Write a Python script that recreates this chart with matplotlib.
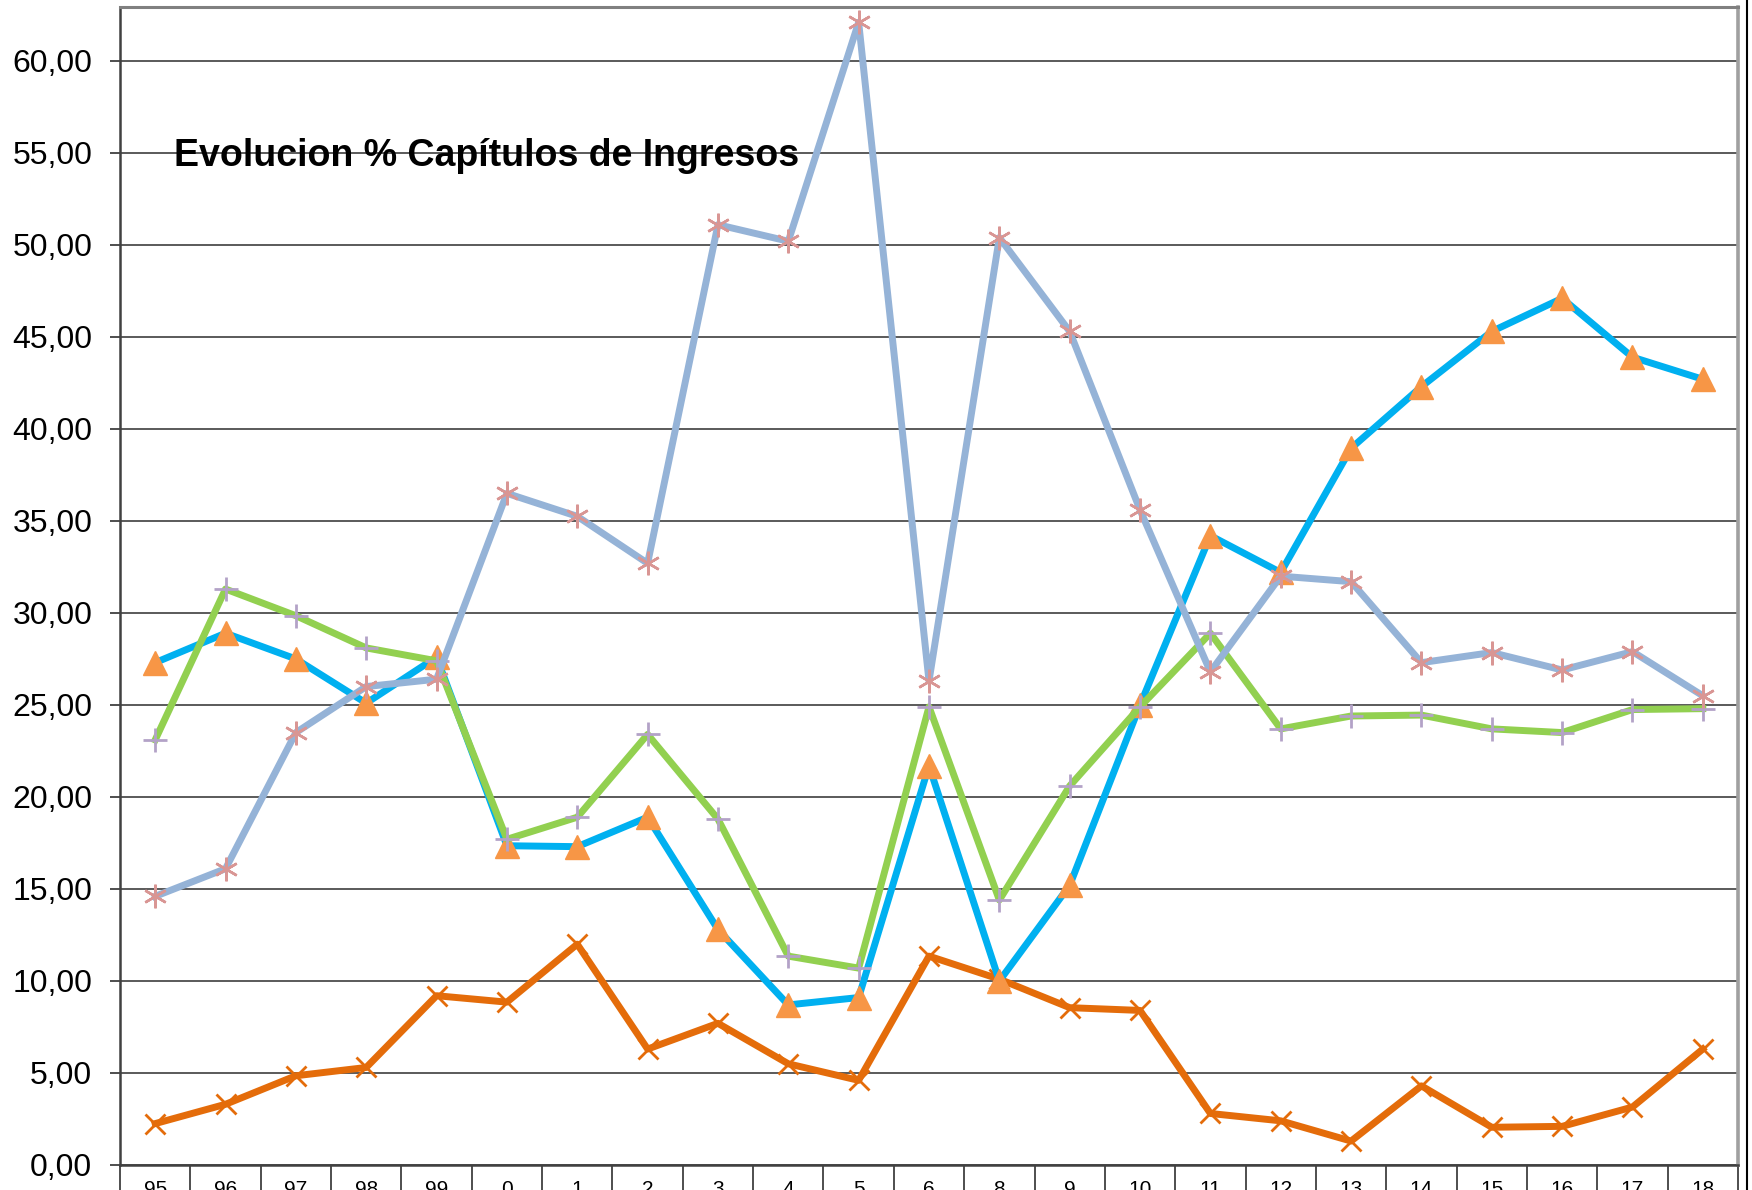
import matplotlib
matplotlib.use("Agg")
import matplotlib.pyplot as plt
from matplotlib.lines import Line2D
from matplotlib.ticker import FixedLocator, FuncFormatter

plt.rcParams['font.family'] = ['Liberation Sans', 'DejaVu Sans']

categories = ["95", "96", "97", "98", "99", "0", "1", "2", "3", "4", "5", "6",
              "8", "9", "10", "11", "12", "13", "14", "15", "16", "17", "18"]

serie_azul = [27.3, 28.9, 27.5, 25.1, 27.6, 17.35, 17.3, 18.9, 12.8, 8.7, 9.1, 21.7,
              10.0, 15.2, 25.0, 34.2, 32.2, 38.95, 42.3, 45.3, 47.1, 43.9, 42.7]
serie_verde = [23.1, 31.3, 29.85, 28.1, 27.4, 17.7, 18.9, 23.4, 18.8, 11.35, 10.7, 24.9,
               14.4, 20.6, 24.9, 28.9, 23.7, 24.4, 24.45, 23.7, 23.5, 24.75, 24.8]
serie_celeste = [14.6, 16.1, 23.5, 26.0, 26.4, 36.5, 35.25, 32.7, 51.1, 50.2, 62.1, 26.3,
                 50.4, 45.3, 35.6, 26.8, 32.0, 31.7, 27.3, 27.85, 26.9, 27.9, 25.5]
serie_naranja = [2.25, 3.3, 4.85, 5.3, 9.2, 8.85, 12.0, 6.3, 7.7, 5.5, 4.6, 11.35,
                 10.1, 8.55, 8.4, 2.8, 2.4, 1.3, 4.3, 2.05, 2.1, 3.15, 6.3]

title = "Evolucion % Capítulos de Ingresos"

W, H = 1752, 1190
fig = plt.figure(figsize=(W / 100, H / 100), dpi=100)
left, right, top, bottom = 120, 1738, 7, 1165
ax = fig.add_axes([left / W, 1 - bottom / H, (right - left) / W, (bottom - top) / H])

x = list(range(len(categories)))

LW = 5.0
ax.plot(x, serie_naranja, color='#E46C0A', lw=LW, marker='x', ms=14, mew=2,
        mec='#E46C0A', zorder=3, solid_joinstyle='round')
ax.plot(x, serie_azul, color='#00B0F0', lw=LW, marker='^', ms=17,
        mfc='#F79646', mec='#F79646', zorder=4, solid_joinstyle='round')
ax.plot(x, serie_verde, color='#92D050', lw=LW, marker='+', ms=17, mew=2,
        mec='#B3A2C7', zorder=5, solid_joinstyle='round')
ax.plot(x, serie_celeste, color='#95B3D7', lw=LW, marker=(6, 2, 0), ms=17, mew=1.8,
        mec='#D99694', zorder=6, solid_joinstyle='round')

ax.set_xlim(-0.5, len(categories) - 0.5)
ax.set_ylim(0, 62.93)
ax.set_yticks([i * 5 for i in range(13)])
ax.yaxis.set_major_formatter(FuncFormatter(lambda v, p: f"{v:.2f}".replace('.', ',')))
ax.grid(axis='y', color='#4D4D4D', lw=1.3, zorder=1)
ax.set_axisbelow(True)

ax.set_xticks(x)
ax.set_xticklabels(categories, fontsize=15)
ax.xaxis.set_minor_locator(FixedLocator([i - 0.5 for i in range(len(categories) + 1)]))
ax.tick_params(axis='x', which='major', length=0, pad=11)
ax.tick_params(axis='x', which='minor', length=40, width=1.3, color='#404040', direction='out')
ax.tick_params(axis='y', which='major', length=7, width=1.3, color='#404040',
               labelsize=23, pad=13)

for s in ['left', 'bottom']:
    ax.spines[s].set_color('#404040')
    ax.spines[s].set_linewidth(1.8)
ax.spines['top'].set_color('#808080')
ax.spines['top'].set_linewidth(2.2)
ax.spines['right'].set_color('#A0A0A0')
ax.spines['right'].set_linewidth(2.6)

fig.text(174 / W, 1 - 166 / H, title, fontsize=27, fontweight='bold',
         ha='left', va='baseline', zorder=10)

fig.add_artist(Line2D([1746.5 / W, 1746.5 / W], [0, 1], color='black', lw=1.5,
                      transform=fig.transFigure))

fig.savefig("out.png", dpi=100, facecolor='white')
